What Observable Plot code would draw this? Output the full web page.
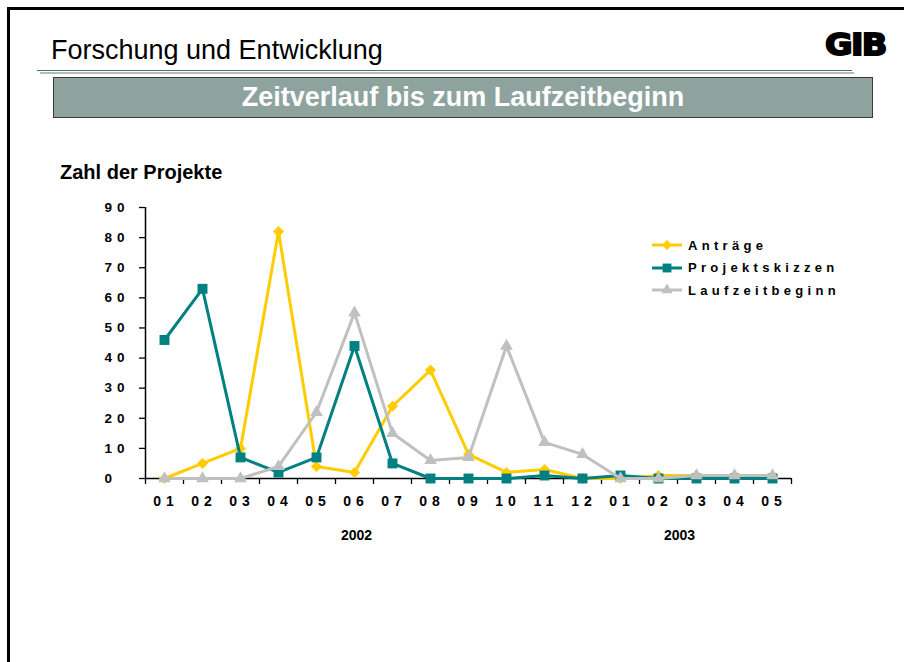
<!DOCTYPE html>
<html><head><meta charset="utf-8">
<script src="https://cdn.jsdelivr.net/npm/d3@7"></script>
<script src="https://cdn.jsdelivr.net/npm/@observablehq/plot@0.6"></script>
<style>
body{margin:0;background:#fff;}
#page{position:relative;width:904px;height:662px;overflow:hidden;font-family:"Liberation Sans",Arial,sans-serif;background:#fff;}
#chart{position:absolute;left:0;top:0;}
.frame{position:absolute;left:7px;top:7px;width:920px;height:680px;border-left:3px solid #000;border-top:3px solid #000;}
.title{position:absolute;left:51px;top:37px;font-size:27px;line-height:27px;color:#000;white-space:nowrap;}
.logo{position:absolute;left:825px;top:30px;font-family:"DejaVu Sans",sans-serif;font-weight:bold;font-size:30px;line-height:30px;transform:scaleX(1.12);transform-origin:left center;-webkit-text-stroke:1.8px #000;color:#000;letter-spacing:-1.5px;}
.rule1{position:absolute;left:37px;top:70px;width:815px;height:1px;background:#3f7775;}
.rule2{position:absolute;left:40px;top:72px;width:814px;height:2px;background:#b9b9b9;}
.banner{position:absolute;left:53px;top:77px;width:820px;height:41px;box-sizing:border-box;border:1px solid #3a3a3a;background:#8fa39e;color:#fff;font-weight:bold;font-size:27px;line-height:39px;text-align:center;white-space:nowrap;}
.ylabel{position:absolute;left:60px;top:160px;font-weight:bold;font-size:20px;line-height:24px;white-space:nowrap;}
.legend{position:absolute;left:652px;top:234px;}
.legend .row{display:flex;align-items:center;height:22.5px;}
.legend .row span{margin-left:5px;font-weight:bold;font-size:13px;letter-spacing:4.3px;white-space:nowrap;}
.gib [aria-label="x-axis tick label"] text{letter-spacing:5px;}
.gib [aria-label="y-axis tick label"] text{letter-spacing:5px;}
</style></head>
<body><div id="page">
<div id="chart"></div>
<div class="frame"></div>
<div class="title">Forschung und Entwicklung</div>
<div class="logo">GIB</div>
<div class="rule1"></div><div class="rule2"></div>
<div class="banner">Zeitverlauf bis zum Laufzeitbeginn</div>
<div class="ylabel">Zahl der Projekte</div>
<div class="legend" id="legend"></div>
</div>
<script>
// ---- data ----
const months = ["01","02","03","04","05","06","07","08","09","10","11","12","01","02","03","04","05"];
const years = ["2002","2003"];
const monthsPerYear = [12, 5];
const antraege       = [0, 5, 10, 82, 4, 2, 24, 36, 8, 2, 3, 0, 0, 1, 1, 1, 1];
const projektskizzen = [46, 63, 7, 2, 7, 44, 5, 0, 0, 0, 1, 0, 1, 0, 0, 0, 0];
const laufzeitbeginn = [0, 0, 0, 4, 22, 55, 15, 6, 7, 44, 12, 8, 0, 0, 1, 1, 1];
const yTicks = [0, 10, 20, 30, 40, 50, 60, 70, 80, 90];
const seriesNames = ["Anträge", "Projektskizzen", "Laufzeitbeginn"];
const seriesValues = [antraege, projektskizzen, laufzeitbeginn];
const colors = ["#ffcc00", "#008080", "#c0c0c0"];
const symbols = ["diamond2", "square", "triangle"];
const radii = [5.0, 5.6, 4.7];

// ---- build ----
const yearCenters = [];
{ let s = 0; monthsPerYear.forEach(n => { yearCenters.push(s + (n - 1) / 2); s += n; }); }

const seriesMarks = seriesNames.flatMap((name, k) => {
  const rows = seriesValues[k].map((v, i) => ({x: i + 0.5, v}));
  return [
    Plot.line(rows, {x: "x", y: "v", stroke: colors[k], strokeWidth: 3}),
    Plot.dot(rows, {x: "x", y: "v", symbol: () => symbols[k], fill: colors[k], stroke: "none", r: radii[k]})
  ];
});

const chart = Plot.plot({
  width: 904, height: 662,
  marginLeft: 145, marginRight: 113, marginTop: 207, marginBottom: 184,
  className: "gib",
  style: {background: "transparent", color: "#000", fontFamily: "'Liberation Sans', Arial, sans-serif", overflow: "visible"},
  x: {domain: [0, months.length], label: null},
  y: {domain: [0, 90], label: null},
  symbol: {type: "identity"},
  marks: [
    Plot.axisY(yTicks, {label: null, tickSize: 6, tickPadding: 35, textAnchor: "start", fontSize: 13.5, fontWeight: "bold", strokeWidth: 1.3}),
    Plot.axisX(d3.range(months.length + 1), {label: null, tickSize: 6, tickFormat: () => "", strokeWidth: 1.3}),
    Plot.axisX(months.map((m, i) => i + 0.5), {label: null, tickSize: 0, tickPadding: 18, dx: 1.5, tickFormat: (d) => months[Math.floor(d)], fontSize: 14, fontWeight: "bold"}),
    Plot.text(years, {x: (d, i) => yearCenters[i], frameAnchor: "bottom", dy: 61, dx: 2, text: d => d, fontSize: 14, fontWeight: "bold"}),
    Plot.ruleX([0], {stroke: "#000", strokeWidth: 1.5}),
    Plot.ruleY([0], {stroke: "#000", strokeWidth: 1.5}),
    ...seriesMarks
  ]
});
document.getElementById("chart").appendChild(chart);

// ---- legend ----
const legend = d3.select("#legend");
const symMap = {diamond2: d3.symbolDiamond2, square: d3.symbolSquare, triangle: d3.symbolTriangle};
seriesNames.forEach((name, k) => {
  const row = legend.append("div").attr("class", "row");
  const svg = row.append("svg").attr("width", 31).attr("height", 14);
  svg.append("line").attr("x1", 0).attr("x2", 30).attr("y1", 7).attr("y2", 7)
    .attr("stroke", colors[k]).attr("stroke-width", 3);
  svg.append("path").attr("transform", "translate(15,7)")
    .attr("d", d3.symbol(symMap[symbols[k]], Math.PI * radii[k] * radii[k] * 0.8)())
    .attr("fill", colors[k]);
  row.append("span").text(name);
});
</script>
</body></html>
